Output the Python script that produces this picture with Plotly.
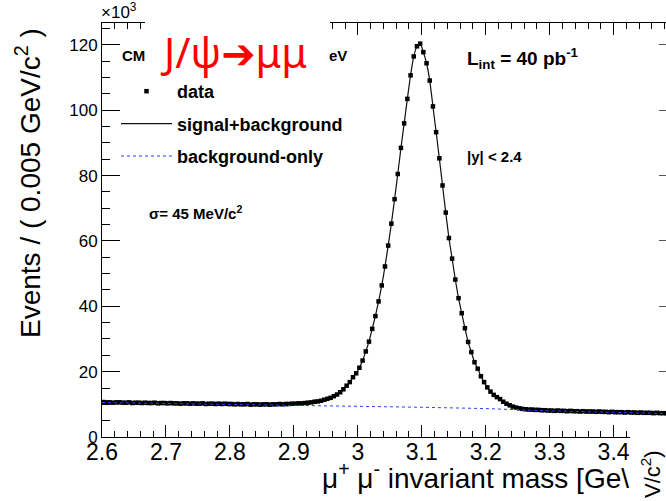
import plotly.graph_objects as go

# ---------------- data ----------------
bin_width = 0.005
mass_low = 2.6
n_bins = 180
mass = [round(mass_low + bin_width * (i + 0.5), 4) for i in range(n_bins)]

# events per bin, in units of 10^3
events_k = [
    10.7, 10.6, 10.6, 10.5, 10.6, 10.6, 10.5, 10.5, 10.6, 10.4,
    10.5, 10.5, 10.4, 10.5, 10.4, 10.4, 10.5, 10.3, 10.4, 10.4,
    10.3, 10.4, 10.3, 10.3, 10.2, 10.3, 10.3, 10.2, 10.3, 10.2,
    10.2, 10.3, 10.1, 10.2, 10.2, 10.1, 10.2, 10.1, 10.2, 10.1,
    10.1, 10.0, 10.1, 10.0, 10.0, 10.1, 9.9, 10.0, 10.0, 9.9,
    10.0, 10.0, 9.9, 10.0, 10.0, 10.1, 10.0, 10.1, 10.1, 10.2,
    10.2, 10.3, 10.3, 10.4, 10.5, 10.6, 10.8, 10.9, 11.1, 11.4,
    11.7, 12.0, 12.5, 13.0, 13.7,
    14.6, 15.7, 16.8, 18.3, 19.5, 21.2, 23.4, 26.2, 29.2, 33.1,
    37.0, 41.5, 46.4, 52.2, 58.6, 65.3, 72.8, 80.5, 88.5, 96.0,
    103.5, 110.7, 116.5, 119.6, 120.4,
    117.8, 114.4, 109.1, 101.2, 93.3, 85.3, 77.0, 68.7, 60.9, 54.6,
    48.2, 42.5, 37.9, 33.3, 29.1, 26.0, 22.9, 20.9, 18.6, 16.8,
    15.2, 13.9, 12.9, 12.2, 11.6,
    10.8, 10.2, 9.7, 9.3, 9.0, 8.8, 8.6, 8.5, 8.4, 8.4, 8.3, 8.3, 8.2, 8.2,
    8.1, 8.1, 8.0, 8.1, 8.0, 8.0, 7.9, 8.0, 7.9, 7.9,
    7.8, 7.9, 7.8, 7.8, 7.8, 7.7, 7.8, 7.7, 7.7, 7.6,
    7.7, 7.6, 7.6, 7.6, 7.5, 7.6, 7.5, 7.5, 7.4, 7.5,
    7.4, 7.4, 7.4, 7.3, 7.4, 7.3, 7.3, 7.3, 7.2, 7.3, 7.2,
]

bkg_mass = [2.6, 2.7, 2.8, 2.9, 3.0, 3.1, 3.2, 3.3, 3.4, 3.5]
bkg_k = [10.55, 10.3, 10.05, 9.8, 9.5, 9.1, 8.7, 8.0, 7.55, 7.1]

x_ticks = [2.6, 2.7, 2.8, 2.9, 3.0, 3.1, 3.2, 3.3, 3.4]
y_ticks = [0, 20, 40, 60, 80, 100, 120]

# ---------------- layout geometry ----------------
FIG_W, FIG_H = 666, 501
L, T, R, B = 102, 23, 0, 64
W = FIG_W - L - R
H = FIG_H - T - B
PX_PER_GEV = 639.5
PX_PER_K = 3.267


def px(x):
    return (x - L) / W


def py(y):
    return (T + H - y) / H


FONT = "Liberation Sans, Arial, sans-serif"

fig = go.Figure()

fig.add_trace(go.Scatter(
    x=mass, y=events_k, mode="lines", name="signal+background",
    line=dict(color="#111111", width=1.2, shape="spline", smoothing=0.6),
    legendgroup="b", legendrank=2, hoverinfo="skip",
))
fig.add_trace(go.Scatter(
    x=mass, y=events_k, mode="markers", name="data",
    marker=dict(symbol="square", size=4.5, color="black"),
    error_x=dict(type="constant", value=bin_width / 2, width=0,
                 thickness=1, color="black"),
    legendgroup="a", legendrank=1,
))
fig.add_trace(go.Scatter(
    x=bkg_mass, y=bkg_k, mode="lines", name="background-only",
    line=dict(color="#2244ff", width=1, dash="dot"),
    legendgroup="c", legendrank=3, yaxis="y2",
))

y_range = [0, H / PX_PER_K]
x_range = [mass_low, mass_low + W / PX_PER_GEV]

fig.update_layout(
    template="none",
    width=FIG_W, height=FIG_H,
    margin=dict(l=L, r=R, t=T, b=B, pad=0, autoexpand=False),
    paper_bgcolor="white", plot_bgcolor="white",
    font=dict(family=FONT, color="black"),
    xaxis=dict(
        range=x_range, tickvals=x_ticks, ticks="inside", ticklen=12,
        tickwidth=1, tickcolor="black", showline=True, linecolor="black",
        linewidth=1, mirror="ticks", showgrid=False, zeroline=False,
        automargin=False, ticklabelstandoff=-6,
        tickfont=dict(size=23, family=FONT),
        minor=dict(dtick=0.02, tick0=2.6, ticks="inside", ticklen=6,
                   tickcolor="black", showgrid=False),
    ),
    yaxis=dict(
        range=y_range, tickvals=y_ticks, ticks="inside", ticklen=18,
        tickwidth=1, tickcolor="black", showline=True, linecolor="black",
        linewidth=1, showgrid=False, zeroline=False, automargin=False,
        tickfont=dict(size=17, family=FONT),
        minor=dict(dtick=5, tick0=0, ticks="inside", ticklen=8,
                   tickcolor="black", showgrid=False),
    ),
    yaxis2=dict(
        range=y_range, overlaying="y", side="right", tickvals=y_ticks,
        ticks="inside", ticklen=7, tickcolor="#555555", automargin=False,
        showticklabels=False, showline=False, showgrid=False,
        zeroline=False,
    ),
    legend=dict(
        x=px(116), y=py(73), xanchor="left", yanchor="top",
        bgcolor="rgba(0,0,0,0)", traceorder="grouped", tracegroupgap=6,
        itemwidth=51, font=dict(size=18, family=FONT, weight="bold"),
    ),
    showlegend=True,
)

# white patches (pasted overlays in the original image)
fig.add_shape(type="rect", xref="paper", yref="paper",
              x0=px(145), x1=px(330), y0=py(72), y1=py(-2),
              fillcolor="white", line=dict(width=0), layer="above")
fig.add_shape(type="rect", xref="paper", yref="paper",
              x0=px(630), x1=px(668), y0=py(503), y1=py(419),
              fillcolor="white", line=dict(width=0), layer="above")

ann = []


def text(x, y, s, size, bold=False, xanchor="left", yanchor="middle",
         color="black", angle=0, family=FONT):
    ann.append(dict(
        x=px(x), y=py(y), xref="paper", yref="paper", text=s,
        showarrow=False, xanchor=xanchor, yanchor=yanchor, textangle=angle,
        font=dict(size=size, color=color, family=family,
                  weight="bold" if bold else "normal"),
    ))


text(99, 11, "×10<sup>3</sup>", 17)
text(120, 55, "CM", 15, bold=True)
text(327, 55, "eV", 15, bold=True)
text(158, 52,
     "J/ψ<span style='font-family:DejaVu Sans'>➔</span>μμ", 41,
     color="#ff0000", family="Noto Sans, Open Sans")
text(465, 58, "L<sub>int</sub> = 40 pb<sup>-1</sup>", 19, bold=True)
text(465, 156, "|y| < 2.4", 15, bold=True)
text(147, 212, "σ= 45 MeV/c<sup>2</sup>", 15, bold=True)
text(28, 183, "Events / ( 0.005 GeV/c<sup>2</sup> )", 28, xanchor="center",
     angle=-90)
text(631, 476, "μ<sup>+</sup> μ<sup>-</sup> invariant mass [Ge\\", 28,
     xanchor="right")
text(651, 474, "V/c<sup>2</sup>)", 22, xanchor="center", angle=-90)

fig.update_layout(annotations=ann)

fig.write_html(
    "out.html",
    config={"displayModeBar": False},
    post_script="document.body.style.margin='0';"
                "document.body.style.overflow='hidden';",
)
